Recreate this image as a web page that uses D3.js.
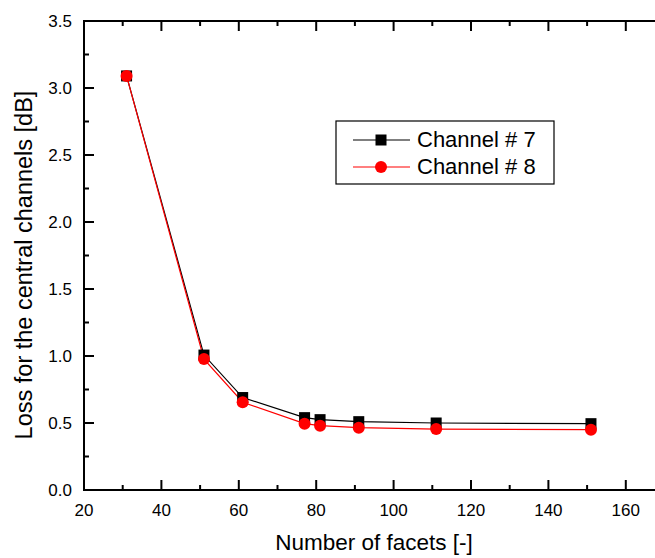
<!DOCTYPE html>
<html><head><meta charset="utf-8">
<script src="https://cdn.jsdelivr.net/npm/d3@7"></script>
<style>body{margin:0;background:#fff}svg{display:block;font-family:"Liberation Sans",Arial,sans-serif}</style>
</head><body>
<script>
const facets = [31, 51, 61, 77, 81, 91, 111, 151];
const channel7 = [3.09, 1.007, 0.69, 0.54, 0.525, 0.51, 0.50, 0.495];
const channel8 = [3.09, 0.977, 0.655, 0.495, 0.48, 0.465, 0.455, 0.45];
const seriesNames = ["Channel # 7", "Channel # 8"];
const xTicks = [20, 40, 60, 80, 100, 120, 140, 160];
const yTicks = [0.0, 0.5, 1.0, 1.5, 2.0, 2.5, 3.0, 3.5];

const W = 655, H = 558;
const svg = d3.select("body").append("svg").attr("width", W).attr("height", H);
const x = d3.scaleLinear().domain([20, 170]).range([84, 664.5]);
const y = d3.scaleLinear().domain([0, 3.5]).range([490, 21]);
const L = 84, R = 664.5, T = 21, B = 490;

const g = svg.append("g");
// frame
g.append("rect").attr("x", L).attr("y", T).attr("width", R - L).attr("height", B - T)
  .attr("fill", "none").attr("stroke", "#000").attr("stroke-width", 2);

const minorX = d3.range(30, 170, 20);
const minorY = d3.range(0.25, 3.5, 0.5);
const tk = (sel, data, f) => sel.selectAll(null).data(data).enter().append("line").each(f)
  .attr("stroke", "#000").attr("stroke-width", 2);
// bottom & top ticks (inward)
tk(g, xTicks, function(d){ d3.select(this).attr("x1", x(d)).attr("x2", x(d)).attr("y1", B).attr("y2", B - 10); });
tk(g, minorX, function(d){ d3.select(this).attr("x1", x(d)).attr("x2", x(d)).attr("y1", B).attr("y2", B - 5); });
tk(g, xTicks, function(d){ d3.select(this).attr("x1", x(d)).attr("x2", x(d)).attr("y1", T).attr("y2", T + 10); });
tk(g, minorX, function(d){ d3.select(this).attr("x1", x(d)).attr("x2", x(d)).attr("y1", T).attr("y2", T + 5); });
// left ticks
tk(g, yTicks, function(d){ d3.select(this).attr("x1", L).attr("x2", L + 10).attr("y1", y(d)).attr("y2", y(d)); });
tk(g, minorY, function(d){ d3.select(this).attr("x1", L).attr("x2", L + 5).attr("y1", y(d)).attr("y2", y(d)); });

// tick labels
g.selectAll(null).data(xTicks).enter().append("text")
  .attr("x", d => x(d)).attr("y", 516).attr("text-anchor", "middle")
  .attr("font-size", 17).text(d => d);
g.selectAll(null).data(yTicks).enter().append("text")
  .attr("x", 72).attr("y", d => y(d) + 6).attr("text-anchor", "end")
  .attr("font-size", 17).text(d => d.toFixed(1));

// axis titles
svg.append("text").attr("x", 374).attr("y", 550).attr("text-anchor", "middle")
  .attr("font-size", 22.5).text("Number of facets [-]");
svg.append("text").attr("transform", "translate(32,265) rotate(-90)").attr("text-anchor", "middle")
  .attr("font-size", 23.5).text("Loss for the central channels [dB]");

const line = d3.line().x(d => x(d[0])).y(d => y(d[1]));
const d7 = facets.map((f, i) => [f, channel7[i]]);
const d8 = facets.map((f, i) => [f, channel8[i]]);
g.append("path").datum(d7).attr("d", line).attr("fill", "none").attr("stroke", "#000").attr("stroke-width", 1.2);
g.append("path").datum(d8).attr("d", line).attr("fill", "none").attr("stroke", "#ff0000").attr("stroke-width", 1.2);
g.selectAll(null).data(d7).enter().append("rect")
  .attr("x", d => x(d[0]) - 5.5).attr("y", d => y(d[1]) - 5.5).attr("width", 11).attr("height", 11).attr("fill", "#000");
g.selectAll(null).data(d8).enter().append("circle")
  .attr("cx", d => x(d[0])).attr("cy", d => y(d[1])).attr("r", 6).attr("fill", "#ff0000");

// legend
const lg = svg.append("g");
lg.append("rect").attr("x", 336).attr("y", 121).attr("width", 218).attr("height", 63)
  .attr("fill", "#fff").attr("stroke", "#000").attr("stroke-width", 1.2);
const rows = [{n: seriesNames[0], c: "#000", y: 140, m: "sq"}, {n: seriesNames[1], c: "#ff0000", y: 167, m: "ci"}];
rows.forEach(r => {
  lg.append("line").attr("x1", 353).attr("x2", 410).attr("y1", r.y).attr("y2", r.y).attr("stroke", r.c).attr("stroke-width", 1.2);
  if (r.m === "sq") lg.append("rect").attr("x", 381 - 5.5).attr("y", r.y - 5.5).attr("width", 11).attr("height", 11).attr("fill", r.c);
  else lg.append("circle").attr("cx", 381).attr("cy", r.y).attr("r", 6).attr("fill", r.c);
  lg.append("text").attr("x", 417).attr("y", r.y + 6.5).attr("font-size", 22).text(r.n);
});
</script>
</body></html>
